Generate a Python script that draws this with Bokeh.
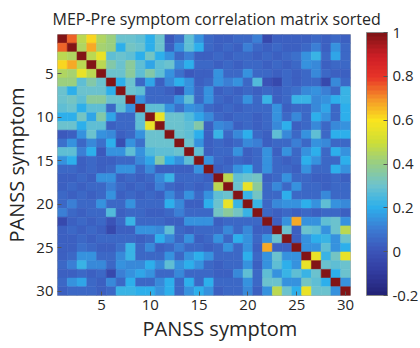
from bokeh.plotting import figure
from bokeh.models import (LinearColorMapper, ColorBar, FixedTicker, Range1d,
                          ColumnDataSource, CustomJSTickFormatter, Title)
from bokeh.embed import file_html
from bokeh.resources import INLINE

title_text = "MEP-Pre symptom correlation matrix sorted"
axis_label = "PANSS symptom"
n_symptoms = 30
tick_values = [5, 10, 15, 20, 25, 30]
cbar_ticks = [-0.2, 0, 0.2, 0.4, 0.6, 0.8, 1]
cbar_low, cbar_high = -0.2, 1.0

# upper-triangle correlations, row i holds columns i+1 .. 30
upper_rows = [
    [.75, .47, .62, .45, .40, .30, .30, .28, .20, .30, .02, .08, .28, .15, .05, .04, .04, .06, .05, .10, -.04, .03, .04, .03, .04, .05, .03, .05, .04],
    [.45, .68, .42, .40, .20, .32, .30, .20, .30, .03, .15, .28, .20, .05, .04, .05, .03, .10, .05, .04, .05, .03, .03, .06, .10, .03, .15, .05],
    [.47, .55, .28, .30, .28, .20, .32, .20, .15, .05, .10, .03, .04, .05, .04, .05, .05, .04, .05, .04, .05, .08, .15, .22, .05, .18, .05],
    [.47, .35, .30, .38, .28, .18, .28, .30, .12, .20, .05, .05, .03, .05, .04, .06, .05, .03, .05, .04, .05, .15, .12, .04, .06, .05],
    [.30, .30, .38, .28, .35, .28, .15, .08, .02, .03, .04, .14, .05, .05, .15, .05, .05, .04, .05, .04, .05, .12, .05, .04, .04],
    [.20, .30, .05, .18, .03, .12, .20, .15, .04, .05, .14, .10, .14, .05, .25, .00, -.05, .05, .04, .05, .06, -.04, .12, .05],
    [.30, .28, .05, .05, .03, -.02, .15, .05, .14, .04, .05, .03, .05, .04, .05, .04, .05, .08, .12, .14, .10, .05, .22],
    [.15, .05, .05, .05, .15, .28, .05, .14, .05, .04, .05, .14, .05, .22, .04, .05, .22, .22, .12, .15, .20, .22],
    [.28, .28, .15, .08, .15, .12, .05, .04, .05, .04, .05, .05, .05, .14, .04, .05, .05, .12, .18, .05, .20],
    [.55, .30, .30, .25, .18, .12, .05, .04, .05, .05, .04, .05, .14, .05, .12, .05, .20, .14, .05, .20],
    [.30, .30, .28, .35, .04, .12, .10, .04, .06, .04, .05, .12, .20, .04, .05, .12, .05, .12, .14],
    [.30, .28, .20, .04, .22, .05, .12, .20, .05, .04, .28, .12, .05, .14, .28, .05, .20, .20],
    [.30, .14, .04, .05, .04, .05, .12, .10, .04, .05, .05, .10, .05, .14, .12, .05, .05],
    [.28, .04, .05, .05, .14, .04, .05, .14, .04, .14, .05, .14, .20, .05, .20, .14],
    [.14, .05, .04, .05, .04, .05, .14, .05, .04, .05, .20, .14, .05, .05, .20],
    [.04, .05, .14, .20, .05, .14, .05, .05, .04, .14, .05, .05, .20, .14],
    [.47, .28, .30, .32, .04, .05, .14, .05, .05, .04, .04, .05, .04],
    [.30, .55, .38, .05, .12, .05, .14, .05, .05, .04, .05, .05],
    [.22, .32, .05, .05, .20, .05, .05, .05, .12, .05, .05],
    [.22, .05, .12, .14, .14, .20, .14, .28, .14, .12],
    [.05, .04, .05, .04, .05, .04, .05, .05, .04],
    [.03, .14, .68, .14, .14, .28, .30, .14],
    [.30, .04, .30, .28, .14, .30, .47],
    [.04, .14, .20, .22, .14, .30],
    [.14, .14, .28, .14, .20],
    [.55, .22, .32, .55],
    [.30, .28, .30],
    [.20, .30],
    [.14],
]

# build symmetric matrix
matrix = [[1.0] * n_symptoms for _ in range(n_symptoms)]
for i, row in enumerate(upper_rows):
    for k, v in enumerate(row):
        j = i + 1 + k
        matrix[i][j] = v
        matrix[j][i] = v

xs, ys, vals = [], [], []
for i in range(n_symptoms):
    for j in range(n_symptoms):
        xs.append(j + 1)
        ys.append(i + 1)
        vals.append(matrix[i][j])
source = ColumnDataSource(dict(x=xs, y=ys, v=vals))

# muted jet-like colour map (anchor colours sampled from the reference bar)
anchors = [
    (35, 35, 120), (50, 60, 160), (60, 85, 185), (60, 125, 212),
    (45, 175, 235), (110, 195, 205), (150, 205, 135), (205, 222, 55),
    (250, 228, 30), (245, 150, 40), (232, 52, 40), (205, 30, 38), (130, 20, 22),
]


def make_palette(n):
    cols = []
    segs = len(anchors) - 1
    for i in range(n):
        t = i / (n - 1) * segs
        k = min(int(t), segs - 1)
        f = t - k
        a, b = anchors[k], anchors[k + 1]
        c = [round(a[m] + (b[m] - a[m]) * f) for m in range(3)]
        cols.append("#%02x%02x%02x" % tuple(c))
    return cols


palette = make_palette(64)
mapper = LinearColorMapper(palette=palette, low=cbar_low, high=cbar_high)

FONT = "Open Sans"
TXT = "#262626"

p = figure(width=420, height=348, output_backend="svg", toolbar_location=None,
           x_range=Range1d(0.5, 30.5), y_range=Range1d(30.5, 0.5),
           min_border_left=45, min_border_right=70, min_border_top=32,
           min_border_bottom=53)
p.title = Title(text=title_text, align="left", offset=-5,
                text_font=FONT, text_font_size="16px", text_font_style="normal",
                text_color=TXT)

cmap = {"field": "v", "transform": mapper}
p.rect(x="x", y="y", width=1, height=1, source=source,
       fill_color=cmap, line_color=cmap, line_width=0.6)

p.grid.visible = False
p.outline_line_color = "#b0b0b0"
p.outline_line_width = 1

for ax in (p.xaxis[0], p.yaxis[0]):
    ax.ticker = FixedTicker(ticks=tick_values)
    ax.major_tick_in = 4
    ax.major_tick_out = 0
    ax.minor_tick_line_color = None
    ax.axis_line_color = None
    ax.major_tick_line_color = "#555555"
    ax.major_label_text_font = FONT
    ax.major_label_text_font_size = "15px"
    ax.major_label_text_color = TXT
    ax.major_label_standoff = 4

p.yaxis[0].axis_label = axis_label
p.yaxis[0].axis_label_text_font = FONT
p.yaxis[0].axis_label_text_font_size = "20px"
p.yaxis[0].axis_label_text_font_style = "normal"
p.yaxis[0].axis_label_text_color = TXT
p.yaxis[0].axis_label_standoff = 3

# x-axis title (placed as in the reference, slightly right of centre)
p.add_layout(Title(text=axis_label, align="left", offset=85,
                   text_font=FONT, text_font_size="20px", text_font_style="normal",
                   text_color=TXT, standoff=0), "below")

cbar = ColorBar(color_mapper=mapper, width=21, height=263, margin=0, padding=0,
                location=(309, 0),
                ticker=FixedTicker(ticks=cbar_ticks),
                formatter=CustomJSTickFormatter(code="return String(Math.round(tick*10)/10);"),
                major_label_text_font=FONT, major_label_text_font_size="15px",
                major_label_text_color=TXT, label_standoff=5,
                major_tick_in=4, major_tick_out=0, major_tick_line_color="#555555",
                bar_line_color="#888888", minor_tick_line_color=None,
                background_fill_alpha=0, border_line_color=None)
p.add_layout(cbar, "center")

open("out.html", "w").write(file_html(p, INLINE))
